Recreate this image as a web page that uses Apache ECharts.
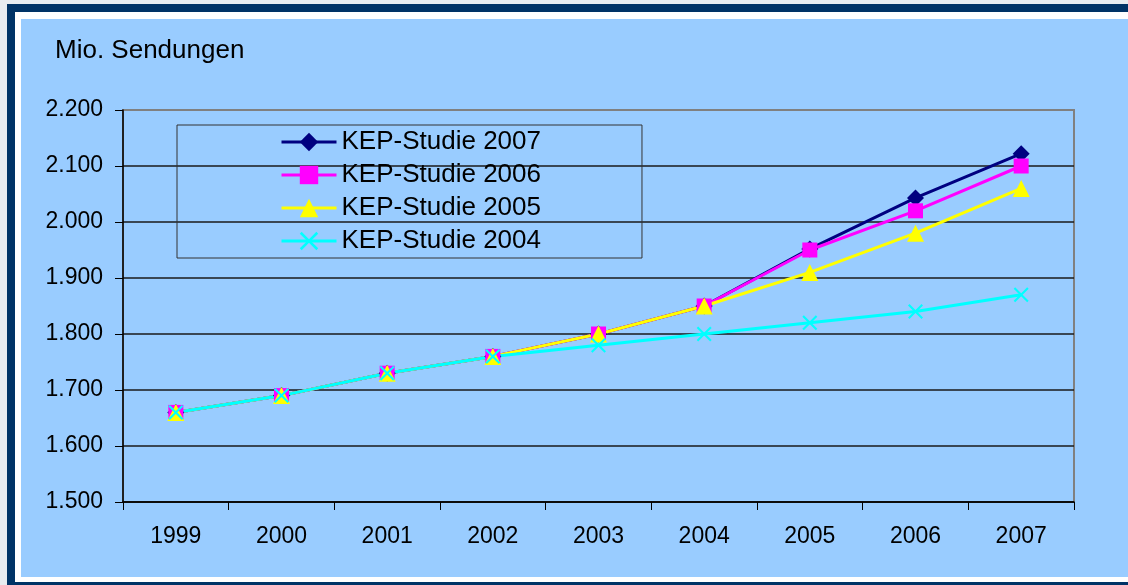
<!DOCTYPE html>
<html>
<head>
<meta charset="utf-8">
<script src="https://cdn.jsdelivr.net/npm/echarts@6/dist/echarts.min.js"></script>
<style>
  html, body { margin: 0; padding: 0; background: #e8ecf0; }
  #frame {
    position: absolute; left: 7px; top: 4px; width: 1200px; height: 600px;
    background: #003366;
  }
  #inner {
    position: absolute; left: 15px; top: 12px; width: 1200px; height: 570px;
    background: #ffffff;
  }
  #panel {
    position: absolute; left: 21px; top: 19px; width: 1200px; height: 558px;
    background: #99ccff;
  }
  #chart { position: absolute; left: 0; top: 0; width: 1128px; height: 585px; }
</style>
</head>
<body>
<div id="frame"></div>
<div id="inner"></div>
<div id="panel"></div>
<div id="chart"></div>
<script>
// Jahre (x-Achse)
var years = ['1999', '2000', '2001', '2002', '2003', '2004', '2005', '2006', '2007'];
// Prognosen der einzelnen Studien, Mio. Sendungen
var kep2007 = [1660, 1690, 1730, 1760, 1800, 1850, 1952, 2043, 2122];
var kep2006 = [1660, 1690, 1730, 1760, 1800, 1850, 1950, 2020, 2100];
var kep2005 = [1660, 1690, 1730, 1760, 1800, 1850, 1910, 1980, 2060];
var kep2004 = [1660, 1690, 1730, 1760, 1780, 1800, 1820, 1840, 1870];

var font = '"Liberation Sans", Arial, sans-serif';
var crossPath = 'path://M0,1L1,0L5,4L9,0L10,1L6,5L10,9L9,10L5,6L1,10L0,9L4,5Z';

function lineSeries(name, data, color, symbol, size) {
    return {
        name: name,
        type: 'line',
        data: data,
        symbol: symbol,
        symbolSize: size,
        lineStyle: { color: color, width: 3 },
        itemStyle: { color: color },
        emphasis: { disabled: true },
        animation: false
    };
}

var myChart = echarts.init(document.getElementById('chart'));
var option = {
    backgroundColor: 'transparent',
    title: {
        text: 'Mio. Sendungen',
        left: 55,
        top: 38,
        padding: 0,
        textStyle: { fontFamily: font, fontSize: 26, fontWeight: 'normal', color: '#000' }
    },
    legend: {
        orient: 'vertical',
        left: 177,
        top: 125,
        padding: [2, 101, 2, 103],
        itemWidth: 55,
        itemHeight: 23,
        itemGap: 3,
        borderColor: '#333',
        borderWidth: 1,
        lineStyle: { width: 3 },
        textStyle: { fontFamily: font, fontSize: 26, color: '#000', lineHeight: 30 },
        data: ['KEP-Studie 2007', 'KEP-Studie 2006', 'KEP-Studie 2005', 'KEP-Studie 2004']
    },
    grid: {
        left: 123,
        right: 54,
        top: 110,
        bottom: 83,
        show: true,
        borderColor: '#808080',
        borderWidth: 2
    },
    xAxis: {
        type: 'category',
        data: years,
        boundaryGap: true,
        axisLine: { lineStyle: { color: '#000', width: 1.5 } },
        axisTick: { show: true, length: 8, inside: false, lineStyle: { color: '#000' } },
        axisLabel: { margin: 23, fontFamily: font, fontSize: 23, color: '#000' }
    },
    yAxis: {
        type: 'value',
        min: 1500,
        max: 2200,
        interval: 100,
        axisLine: { show: true, lineStyle: { color: '#000', width: 1.5 } },
        axisTick: { show: true, length: 8, lineStyle: { color: '#000' } },
        axisLabel: {
            margin: 20,
            fontFamily: font,
            fontSize: 23,
            color: '#000',
            formatter: function (v) { return (v / 1000).toFixed(3); }
        },
        splitLine: { show: true, showMaxLine: false, lineStyle: { color: '#1a1a1a', width: 1.5 } }
    },
    series: [
        lineSeries('KEP-Studie 2007', kep2007, '#000080', 'diamond', 17),
        lineSeries('KEP-Studie 2006', kep2006, '#ff00ff', 'rect', 15),
        lineSeries('KEP-Studie 2005', kep2005, '#ffff00', 'triangle', 17),
        lineSeries('KEP-Studie 2004', kep2004, '#00ffff', crossPath, 15)
    ]
};
myChart.setOption(option);
</script>
</body>
</html>
